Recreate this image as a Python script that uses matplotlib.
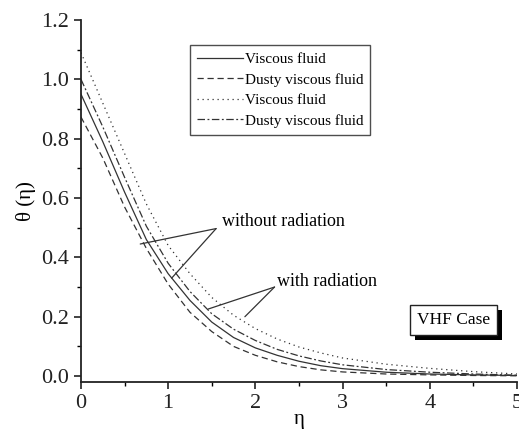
import matplotlib.pyplot as plt
from matplotlib.ticker import MultipleLocator
import matplotlib.patheffects as pe

plt.rcParams['font.family'] = ['Liberation Serif', 'DejaVu Serif']

# data
eta = [0, 0.25, 0.5, 0.75, 1.0, 1.25, 1.5, 1.75, 2.0, 2.25, 2.5, 2.75,
       3.0, 3.5, 4.0, 4.5, 5.0]
viscous_norad = [0.95, 0.79, 0.62, 0.46, 0.345, 0.255, 0.182, 0.13, 0.095,
                 0.07, 0.05, 0.035, 0.025, 0.013, 0.007, 0.004, 0.002]
dusty_norad = [0.873, 0.735, 0.57, 0.43, 0.31, 0.215, 0.15, 0.1, 0.07,
               0.048, 0.032, 0.021, 0.014, 0.007, 0.004, 0.002, 0.001]
viscous_rad = [1.09, 0.92, 0.75, 0.58, 0.44, 0.345, 0.265, 0.205, 0.16,
               0.125, 0.098, 0.078, 0.061, 0.04, 0.026, 0.015, 0.007]
dusty_rad = [1.0, 0.84, 0.67, 0.505, 0.38, 0.285, 0.21, 0.158, 0.12,
             0.09, 0.068, 0.051, 0.038, 0.022, 0.013, 0.007, 0.003]

labels = ["Viscous fluid", "Dusty viscous fluid", "Viscous fluid", "Dusty viscous fluid"]
yticks = [0, 0.2, 0.4, 0.6, 0.8, 1.0, 1.2]
ytick_labels = ["0.0", "0.2", "0.4", "0.6", "0.8", "1.0", "1.2"]

fig = plt.figure(figsize=(5.19, 4.30), dpi=100)
ax = fig.add_axes([0.156, 0.1116, 0.840, 0.842])

lc = '#333333'
ax.plot(eta, viscous_norad, color=lc, lw=0.9, ls='-', label=labels[0])
ax.plot(eta, dusty_norad, color=lc, lw=0.9, ls=(0, (5, 3)), label=labels[1])
ax.plot(eta, viscous_rad, color=lc, lw=0.9, ls=(0, (1, 3)), label=labels[2])
ax.plot(eta, dusty_rad, color=lc, lw=0.9, ls=(0, (6, 2, 1.5, 2)), label=labels[3])

ax.set_xlim(0, 5)
ax.set_ylim(-0.02, 1.2)
ax.xaxis.set_major_locator(MultipleLocator(1))
ax.xaxis.set_minor_locator(MultipleLocator(0.5))
ax.yaxis.set_minor_locator(MultipleLocator(0.1))
ax.set_yticks(yticks)
ax.set_yticklabels(ytick_labels)
ax.tick_params(which='major', direction='out', length=5, width=1.2, labelsize=16, colors='#222222')
ax.tick_params(which='minor', direction='out', length=3, width=1.0)
for s in ['top', 'right']:
    ax.spines[s].set_visible(False)
for s in ['left', 'bottom']:
    ax.spines[s].set_linewidth(1.3)
    ax.spines[s].set_color('#222222')

ax.set_xlabel("η", fontsize=15, labelpad=-2)
ax.set_ylabel("θ (η)", fontsize=15, labelpad=4)

leg = ax.legend(loc='upper left', bbox_to_anchor=(0.25, 0.93), fontsize=11,
                frameon=True, fancybox=False, edgecolor='#222222',
                handlelength=3.0, handletextpad=0.15, labelspacing=0.45,
                borderpad=0.45, borderaxespad=0)
leg.get_frame().set_linewidth(1.0)

# annotations
arrow = dict(arrowstyle='-', color='#333333', lw=0.9, shrinkA=0, shrinkB=0)
ax.text(1.62, 0.52, "without radiation", fontsize=13, va='center', ha='left')
ax.annotate("", xy=(0.68, 0.445), xytext=(1.55, 0.497), arrowprops=arrow)
ax.annotate("", xy=(1.04, 0.33), xytext=(1.55, 0.497), arrowprops=arrow)
ax.text(2.25, 0.318, "with radiation", fontsize=13, va='center', ha='left')
ax.annotate("", xy=(1.46, 0.226), xytext=(2.22, 0.30), arrowprops=arrow)
ax.annotate("", xy=(1.88, 0.20), xytext=(2.22, 0.30), arrowprops=arrow)

vhf = ax.text(4.27, 0.19, "VHF Case", fontsize=12.5, ha='center', va='center',
              bbox=dict(boxstyle='square,pad=0.4', fc='white', ec='#222222', lw=1.0))
vhf.get_bbox_patch().set_path_effects([
    pe.SimplePatchShadow(offset=(4, -4), shadow_rgbFace='black', alpha=1.0),
    pe.Normal()])

fig.savefig("out.png", dpi=100)
